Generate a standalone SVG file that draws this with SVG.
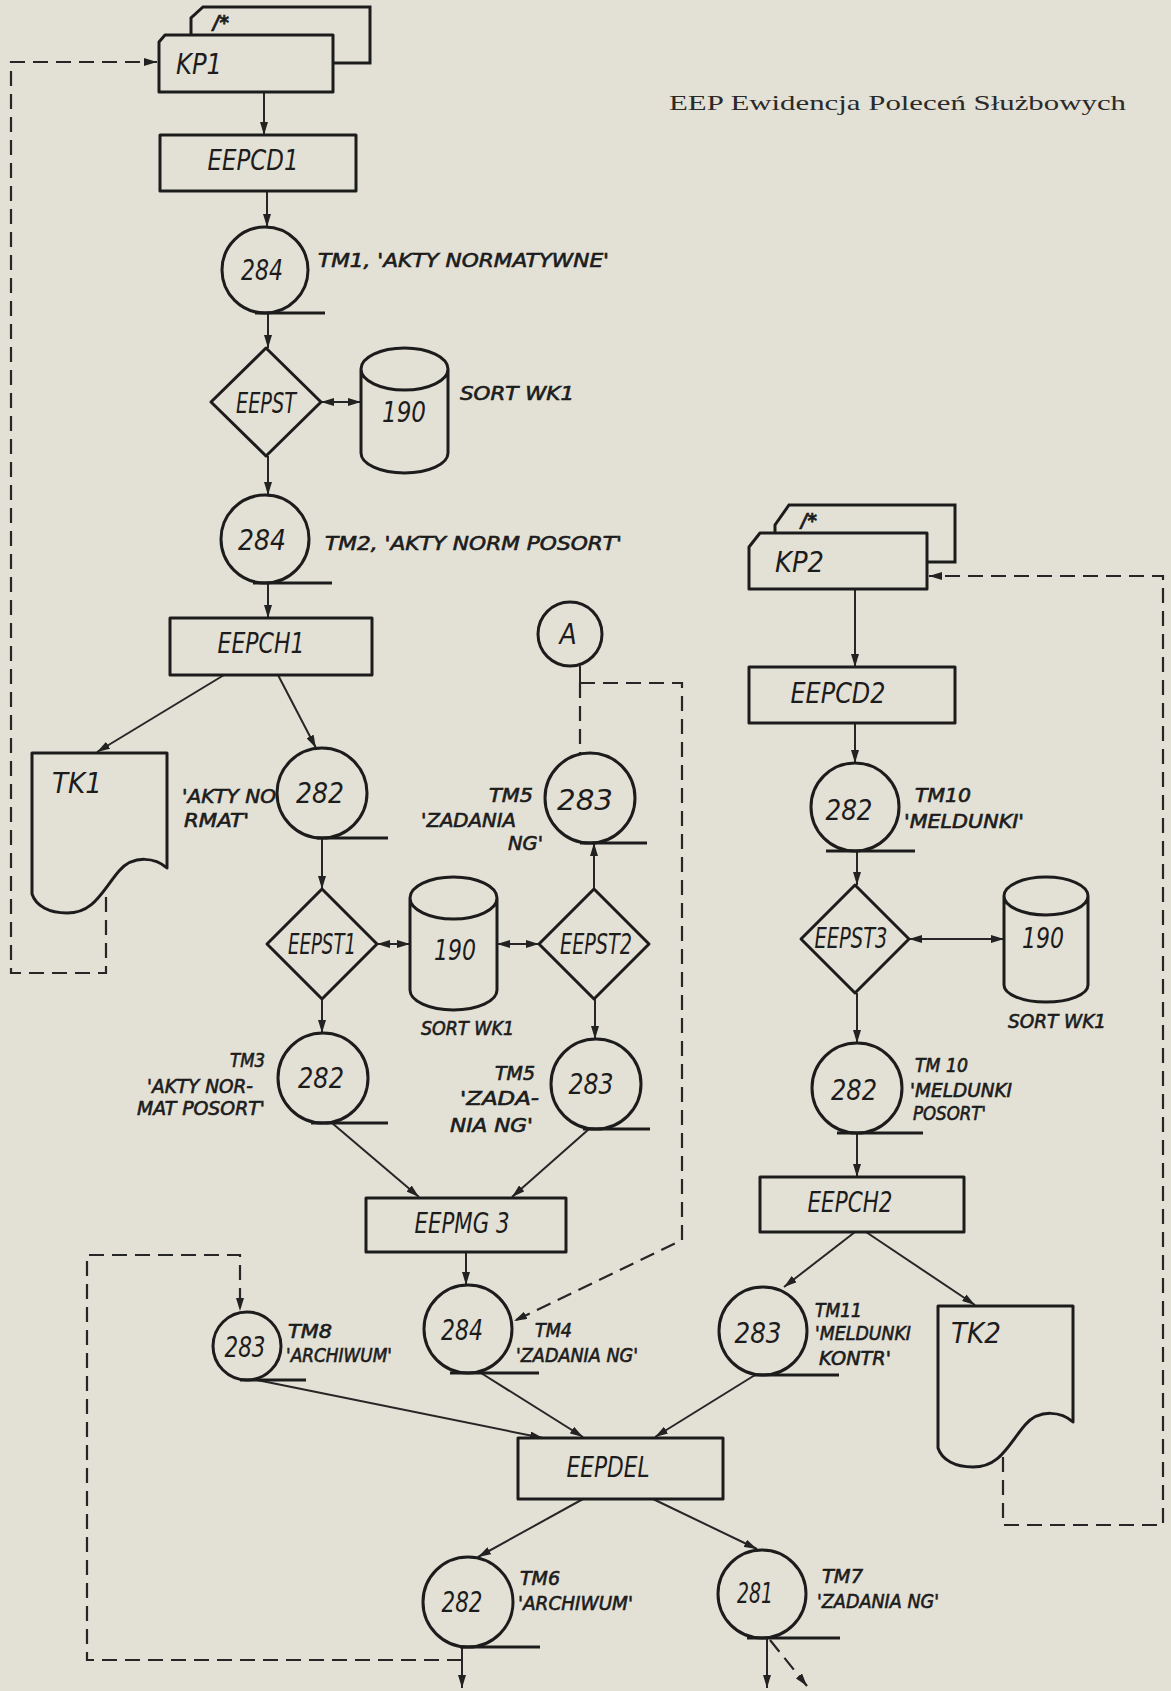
<svg xmlns="http://www.w3.org/2000/svg" width="1171" height="1691" viewBox="0 0 1171 1691">
<defs>
<marker id="ah" viewBox="0 0 13 8" refX="13" refY="4" markerWidth="13" markerHeight="8" markerUnits="userSpaceOnUse" orient="auto-start-reverse"><path d="M0,0 L13,4 L0,8 Z" fill="#222"/></marker>
<style>
.bg{fill:#e3e0d5}
.s{fill:#e3e0d5;stroke:#1c1c1c;stroke-width:3;stroke-linejoin:round}
.o{fill:none;stroke:#1c1c1c;stroke-width:3}
.t{fill:none;stroke:#1c1c1c;stroke-width:3}
.c{fill:none;stroke:#262626;stroke-width:2}
.d{fill:none;stroke:#262626;stroke-width:2.2;stroke-dasharray:15 8}
.a{marker-end:url(#ah)}
.aa{marker-start:url(#ah);marker-end:url(#ah)}
text{font-family:"Liberation Sans Narrow","DejaVu Sans Condensed","Liberation Sans",sans-serif;font-style:italic;fill:#1c1c1c}
.b{font-size:28px}
.l{font-size:20px;stroke:#1c1c1c;stroke-width:0.6}
.m{text-anchor:middle}
.e{text-anchor:end}
.h{font-family:"Liberation Serif","Times New Roman",serif;font-style:normal;font-size:22px;fill:#2a2a2a}
</style>
</defs>
<rect class="bg" x="0" y="0" width="1171" height="1691"/>
<text class="h" x="669" y="110" textLength="457" lengthAdjust="spacingAndGlyphs">EEP  Ewidencja Poleceń Służbowych</text>

<g id="connectors">
<path class="c a" d="M264,92 V135"/>
<path class="c a" d="M267,191 V227"/>
<path class="c a" d="M268,313 V348"/>
<path class="c aa" d="M321,402 H361"/>
<path class="c a" d="M268,456 V495"/>
<path class="c a" d="M268,583 V618"/>
<path class="c a" d="M224,675 L97,752"/>
<path class="c a" d="M278,675 L316,748"/>
<path class="c a" d="M322,838 V889"/>
<path class="c aa" d="M377,944 H410"/>
<path class="c aa" d="M497,944 H539"/>
<path class="c a" d="M594,889 V843"/>
<path class="c a" d="M322,999 V1033"/>
<path class="c a" d="M595,999 V1039"/>
<path class="c a" d="M332,1123 L419,1197"/>
<path class="c a" d="M589,1129 L512,1197"/>
<path class="c a" d="M466,1252 V1285"/>
<path class="c a" d="M257,1380 L543,1438"/>
<path class="c a" d="M481,1373 L583,1437"/>
<path class="c a" d="M755,1375 L655,1437"/>
<path class="c a" d="M583,1499 L478,1557"/>
<path class="c a" d="M653,1499 L757,1549"/>
<path class="c a" d="M462,1647 V1688"/>
<path class="c a" d="M767,1638 V1688"/>
<path class="d a" d="M770,1640 L807,1686"/>
<path class="c a" d="M855,589 V667"/>
<path class="c a" d="M855,723 V763"/>
<path class="c a" d="M857,851 V885"/>
<path class="c aa" d="M909,939 H1004"/>
<path class="c a" d="M857,993 V1043"/>
<path class="c a" d="M857,1133 V1177"/>
<path class="c a" d="M855,1232 L784,1287"/>
<path class="c a" d="M866,1232 L975,1305"/>
<path class="c" d="M580,666 V683"/>
<path class="d" d="M580,683 V753"/>
<path class="d a" d="M580,683 H682 V1240 L514,1321"/>
<path class="d a" d="M106,897 V973 H11 V62 H157"/>
<path class="d a" d="M462,1660 H87 V1255 H240 V1311"/>
<path class="d a" d="M1003,1457 V1525 H1163 V576 H929"/>
</g>

<g id="KP1">
<path class="o" d="M191,40 V18 L203,7 H370 V63 H333"/>
<path class="s" d="M165,35 H333 V92 H159 V42 Z"/>
<text class="l" x="213" y="29" style="font-weight:bold">/*</text>
<text class="b" x="176" y="74" textLength="46" lengthAdjust="spacingAndGlyphs">KP1</text>
</g>
<g id="EEPCD1">
<rect class="s" x="160" y="135" width="196" height="56"/>
<text class="b m" x="253" y="170" textLength="91" lengthAdjust="spacingAndGlyphs">EEPCD1</text>
</g>
<g id="TM1">
<circle class="s" cx="265" cy="270" r="43"/>
<path class="t" d="M255,313 H325"/>
<text class="b m" x="262" y="280" textLength="42" lengthAdjust="spacingAndGlyphs">284</text>
<text class="l" x="318" y="267" textLength="291" lengthAdjust="spacingAndGlyphs">TM1, 'AKTY NORMATYWNE'</text>
</g>
<g id="EEPST">
<path class="s" d="M266,348 L321,402 L266,456 L211,402 Z"/>
<text class="b m" x="266" y="413" textLength="60" lengthAdjust="spacingAndGlyphs">EEPST</text>
</g>
<g id="SORT1">
<path class="s" d="M361,369 A43.5,21 0 0 1 448,369 V453 A43.5,20 0 0 1 361,453 Z M361,369 A43.5,21 0 0 0 448,369"/>
<text class="b m" x="404" y="422" textLength="44" lengthAdjust="spacingAndGlyphs">190</text>
<text class="l" x="460" y="400" textLength="114" lengthAdjust="spacingAndGlyphs">SORT WK1</text>
</g>
<g id="TM2">
<circle class="s" cx="265" cy="539" r="44"/>
<path class="t" d="M253,583 H332"/>
<text class="b m" x="262" y="550" textLength="48" lengthAdjust="spacingAndGlyphs">284</text>
<text class="l" x="325" y="550" textLength="297" lengthAdjust="spacingAndGlyphs">TM2, 'AKTY NORM POSORT'</text>
</g>
<g id="EEPCH1">
<rect class="s" x="170" y="618" width="202" height="57"/>
<text class="b m" x="261" y="653" textLength="87" lengthAdjust="spacingAndGlyphs">EEPCH1</text>
</g>
<g id="TK1">
<path class="s" d="M32,753 H167 V868 C156,858 134,854 119,871 C102,891 94,913 67,913 C49,913 36,906 32,894 Z"/>
<text class="b" x="52" y="793" textLength="50" lengthAdjust="spacingAndGlyphs">TK1</text>
</g>
<g id="T282a">
<circle class="s" cx="322" cy="793" r="45"/>
<path class="t" d="M317,838 H388"/>
<text class="b m" x="320" y="803" textLength="48" lengthAdjust="spacingAndGlyphs">282</text>
<text class="l" x="182" y="803" textLength="94" lengthAdjust="spacingAndGlyphs">'AKTY NO</text>
<text class="l" x="184" y="827" textLength="65" lengthAdjust="spacingAndGlyphs">RMAT'</text>
</g>
<g id="A">
<circle class="s" cx="570" cy="634" r="32"/>
<text class="b m" x="568" y="644">A</text>
</g>
<g id="TM5a">
<circle class="s" cx="590" cy="798" r="45"/>
<path class="t" d="M580,843 H647"/>
<text class="b m" x="585" y="810" textLength="56" lengthAdjust="spacingAndGlyphs">283</text>
<text class="l e" x="533" y="802" textLength="44" lengthAdjust="spacingAndGlyphs">TM5</text>
<text class="l" x="421" y="827" textLength="95" lengthAdjust="spacingAndGlyphs">'ZADANIA</text>
<text class="l" x="508" y="850" textLength="35" lengthAdjust="spacingAndGlyphs">NG'</text>
</g>
<g id="EEPST1">
<path class="s" d="M322,889 L377,944 L322,999 L267,944 Z"/>
<text class="b m" x="322" y="954" textLength="68" lengthAdjust="spacingAndGlyphs">EEPST1</text>
</g>
<g id="SORT2">
<path class="s" d="M410,898 A43.5,21 0 0 1 497,898 V990 A43.5,20 0 0 1 410,990 Z M410,898 A43.5,21 0 0 0 497,898"/>
<text class="b m" x="455" y="960" textLength="42" lengthAdjust="spacingAndGlyphs">190</text>
<text class="l" x="421" y="1035" textLength="93" lengthAdjust="spacingAndGlyphs">SORT WK1</text>
</g>
<g id="EEPST2">
<path class="s" d="M594,889 L649,944 L594,999 L539,944 Z"/>
<text class="b m" x="596" y="954" textLength="72" lengthAdjust="spacingAndGlyphs">EEPST2</text>
</g>
<g id="TM3">
<circle class="s" cx="323" cy="1078" r="45"/>
<path class="t" d="M311,1123 H388"/>
<text class="b m" x="321" y="1088" textLength="46" lengthAdjust="spacingAndGlyphs">282</text>
<text class="l e" x="265" y="1067" textLength="35" lengthAdjust="spacingAndGlyphs">TM3</text>
<text class="l" x="147" y="1093" textLength="106" lengthAdjust="spacingAndGlyphs">'AKTY NOR-</text>
<text class="l" x="137" y="1115" textLength="128" lengthAdjust="spacingAndGlyphs">MAT POSORT'</text>
</g>
<g id="TM5b">
<circle class="s" cx="596" cy="1084" r="45"/>
<path class="t" d="M583,1129 H650"/>
<text class="b m" x="591" y="1094" textLength="45" lengthAdjust="spacingAndGlyphs">283</text>
<text class="l e" x="535" y="1080" textLength="40" lengthAdjust="spacingAndGlyphs">TM5</text>
<text class="l" x="460" y="1105" textLength="79" lengthAdjust="spacingAndGlyphs">'ZADA-</text>
<text class="l" x="450" y="1132" textLength="83" lengthAdjust="spacingAndGlyphs">NIA NG'</text>
</g>
<g id="EEPMG3">
<rect class="s" x="366" y="1198" width="200" height="54"/>
<text class="b m" x="462" y="1233" textLength="95" lengthAdjust="spacingAndGlyphs">EEPMG 3</text>
</g>
<g id="TM4">
<circle class="s" cx="468" cy="1329" r="44"/>
<path class="t" d="M450,1373 H539"/>
<text class="b m" x="462" y="1340" textLength="42" lengthAdjust="spacingAndGlyphs">284</text>
<text class="l" x="535" y="1337" textLength="37" lengthAdjust="spacingAndGlyphs">TM4</text>
<text class="l" x="516" y="1362" textLength="122" lengthAdjust="spacingAndGlyphs">'ZADANIA NG'</text>
</g>
<g id="TM8">
<circle class="s" cx="247" cy="1346" r="34"/>
<path class="t" d="M240,1380 H306"/>
<text class="b m" x="245" y="1357" textLength="41" lengthAdjust="spacingAndGlyphs">283</text>
<text class="l" x="288" y="1338" textLength="44" lengthAdjust="spacingAndGlyphs">TM8</text>
<text class="l" x="286" y="1362" textLength="106" lengthAdjust="spacingAndGlyphs">'ARCHIWUM'</text>
</g>
<g id="EEPDEL">
<rect class="s" x="518" y="1438" width="205" height="61"/>
<text class="b m" x="608" y="1477" textLength="83" lengthAdjust="spacingAndGlyphs">EEPDEL</text>
</g>
<g id="TM6">
<circle class="s" cx="468" cy="1602" r="45"/>
<path class="t" d="M460,1647 H540"/>
<text class="b m" x="462" y="1612" textLength="41" lengthAdjust="spacingAndGlyphs">282</text>
<text class="l" x="520" y="1585" textLength="40" lengthAdjust="spacingAndGlyphs">TM6</text>
<text class="l" x="518" y="1610" textLength="115" lengthAdjust="spacingAndGlyphs">'ARCHIWUM'</text>
</g>
<g id="TM7">
<circle class="s" cx="762" cy="1594" r="44"/>
<path class="t" d="M747,1638 H840"/>
<text class="b m" x="755" y="1603" textLength="36" lengthAdjust="spacingAndGlyphs">281</text>
<text class="l" x="822" y="1583" textLength="41" lengthAdjust="spacingAndGlyphs">TM7</text>
<text class="l" x="817" y="1608" textLength="122" lengthAdjust="spacingAndGlyphs">'ZADANIA NG'</text>
</g>
<g id="KP2">
<path class="o" d="M775,535 V525 L789,505 H955 V562 H927"/>
<path class="s" d="M760,533 H927 V589 H749 V547 Z"/>
<text class="l" x="801" y="527" style="font-weight:bold">/*</text>
<text class="b" x="775" y="572" textLength="49" lengthAdjust="spacingAndGlyphs">KP2</text>
</g>
<g id="EEPCD2">
<rect class="s" x="749" y="667" width="206" height="56"/>
<text class="b m" x="838" y="703" textLength="95" lengthAdjust="spacingAndGlyphs">EEPCD2</text>
</g>
<g id="TM10a">
<circle class="s" cx="855" cy="807" r="44"/>
<path class="t" d="M826,851 H915"/>
<text class="b m" x="849" y="820" textLength="47" lengthAdjust="spacingAndGlyphs">282</text>
<text class="l" x="915" y="802" textLength="56" lengthAdjust="spacingAndGlyphs">TM10</text>
<text class="l" x="904" y="828" textLength="120" lengthAdjust="spacingAndGlyphs">'MELDUNKI'</text>
</g>
<g id="EEPST3">
<path class="s" d="M855,885 L909,939 L855,993 L801,939 Z"/>
<text class="b m" x="851" y="948" textLength="73" lengthAdjust="spacingAndGlyphs">EEPST3</text>
</g>
<g id="SORT3">
<path class="s" d="M1004,896 A42,19 0 0 1 1088,896 V985 A42,17 0 0 1 1004,985 Z M1004,896 A42,19 0 0 0 1088,896"/>
<text class="b m" x="1043" y="948" textLength="42" lengthAdjust="spacingAndGlyphs">190</text>
<text class="l" x="1008" y="1028" textLength="98" lengthAdjust="spacingAndGlyphs">SORT WK1</text>
</g>
<g id="TM10b">
<circle class="s" cx="857" cy="1088" r="45"/>
<path class="t" d="M837,1133 H923"/>
<text class="b m" x="854" y="1100" textLength="46" lengthAdjust="spacingAndGlyphs">282</text>
<text class="l" x="915" y="1072" textLength="53" lengthAdjust="spacingAndGlyphs">TM 10</text>
<text class="l" x="910" y="1097" textLength="102" lengthAdjust="spacingAndGlyphs">'MELDUNKI</text>
<text class="l" x="913" y="1120" textLength="73" lengthAdjust="spacingAndGlyphs">POSORT'</text>
</g>
<g id="EEPCH2">
<rect class="s" x="760" y="1177" width="204" height="55"/>
<text class="b m" x="850" y="1212" textLength="85" lengthAdjust="spacingAndGlyphs">EEPCH2</text>
</g>
<g id="TM11">
<circle class="s" cx="763" cy="1331" r="44"/>
<path class="t" d="M753,1375 H839"/>
<text class="b m" x="758" y="1343" textLength="47" lengthAdjust="spacingAndGlyphs">283</text>
<text class="l" x="815" y="1317" textLength="47" lengthAdjust="spacingAndGlyphs">TM11</text>
<text class="l" x="815" y="1340" textLength="96" lengthAdjust="spacingAndGlyphs">'MELDUNKI</text>
<text class="l" x="819" y="1365" textLength="72" lengthAdjust="spacingAndGlyphs">KONTR'</text>
</g>
<g id="TK2">
<path class="s" d="M938,1306 H1073 V1422 C1062,1412 1040,1408 1025,1425 C1008,1445 1000,1467 973,1467 C955,1467 942,1460 938,1448 Z"/>
<text class="b" x="951" y="1343" textLength="50" lengthAdjust="spacingAndGlyphs">TK2</text>
</g>
</svg>
